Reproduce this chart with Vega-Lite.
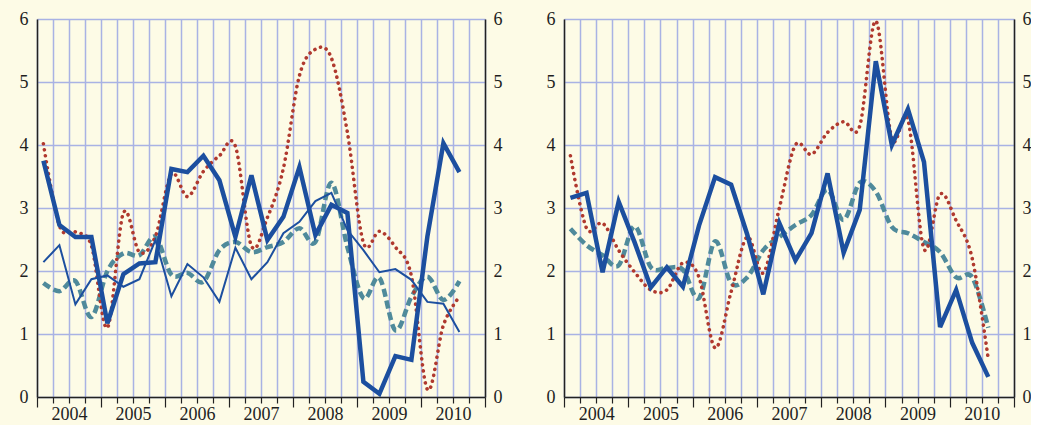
{
  "$schema": "https://vega.github.io/schema/vega-lite/v6.json",
  "background": "#FDFBE6",
  "padding": {"left": 19, "top": 10, "right": 0, "bottom": 0},
  "spacing": 44,
  "config": {
    "view": {"stroke": null},
    "axis": {"labelFont": "Liberation Serif", "labelFontSize": 18, "labelColor": "#1e1e1e", "domainColor": "#222222", "domainWidth": 1.5, "tickColor": "#222222", "tickWidth": 1.2, "title": null}
  },
  "datasets": {
    "left": [
      {"q": 0.4, "s": "a", "v": 3.75}, {"q": 1.4, "s": "a", "v": 2.73}, {"q": 2.4, "s": "a", "v": 2.54}, {"q": 3.4, "s": "a", "v": 2.54}, {"q": 4.4, "s": "a", "v": 1.17}, {"q": 5.4, "s": "a", "v": 1.95}, {"q": 6.4, "s": "a", "v": 2.12}, {"q": 7.4, "s": "a", "v": 2.14}, {"q": 8.4, "s": "a", "v": 3.62}, {"q": 9.4, "s": "a", "v": 3.57}, {"q": 10.4, "s": "a", "v": 3.83}, {"q": 11.4, "s": "a", "v": 3.44}, {"q": 12.4, "s": "a", "v": 2.54}, {"q": 13.4, "s": "a", "v": 3.52}, {"q": 14.4, "s": "a", "v": 2.49}, {"q": 15.4, "s": "a", "v": 2.86}, {"q": 16.4, "s": "a", "v": 3.65}, {"q": 17.4, "s": "a", "v": 2.57}, {"q": 18.4, "s": "a", "v": 3.05}, {"q": 19.4, "s": "a", "v": 2.92}, {"q": 20.4, "s": "a", "v": 0.24}, {"q": 21.4, "s": "a", "v": 0.05}, {"q": 22.4, "s": "a", "v": 0.65}, {"q": 23.4, "s": "a", "v": 0.59}, {"q": 24.4, "s": "a", "v": 2.55}, {"q": 25.4, "s": "a", "v": 4.03}, {"q": 26.4, "s": "a", "v": 3.57},
      {"q": 0.4, "s": "b", "v": 2.14}, {"q": 1.4, "s": "b", "v": 2.41}, {"q": 2.4, "s": "b", "v": 1.47}, {"q": 3.4, "s": "b", "v": 1.87}, {"q": 4.4, "s": "b", "v": 1.93}, {"q": 5.4, "s": "b", "v": 1.75}, {"q": 6.4, "s": "b", "v": 1.87}, {"q": 7.4, "s": "b", "v": 2.49}, {"q": 8.4, "s": "b", "v": 1.6}, {"q": 9.4, "s": "b", "v": 2.11}, {"q": 10.4, "s": "b", "v": 1.9}, {"q": 11.4, "s": "b", "v": 1.51}, {"q": 12.4, "s": "b", "v": 2.37}, {"q": 13.4, "s": "b", "v": 1.87}, {"q": 14.4, "s": "b", "v": 2.14}, {"q": 15.4, "s": "b", "v": 2.6}, {"q": 16.4, "s": "b", "v": 2.78}, {"q": 17.4, "s": "b", "v": 3.11}, {"q": 18.4, "s": "b", "v": 3.24}, {"q": 19.4, "s": "b", "v": 2.65}, {"q": 20.4, "s": "b", "v": 2.33}, {"q": 21.4, "s": "b", "v": 1.98}, {"q": 22.4, "s": "b", "v": 2.03}, {"q": 23.4, "s": "b", "v": 1.86}, {"q": 24.4, "s": "b", "v": 1.51}, {"q": 25.4, "s": "b", "v": 1.48}, {"q": 26.4, "s": "b", "v": 1.03},
      {"q": 0.4, "s": "c", "v": 4.02}, {"q": 1.4, "s": "c", "v": 2.72}, {"q": 2.4, "s": "c", "v": 2.62}, {"q": 3.4, "s": "c", "v": 2.4}, {"q": 4.4, "s": "c", "v": 1.1}, {"q": 5.4, "s": "c", "v": 2.92}, {"q": 6.4, "s": "c", "v": 2.3}, {"q": 7.4, "s": "c", "v": 2.55}, {"q": 8.4, "s": "c", "v": 3.54}, {"q": 9.4, "s": "c", "v": 3.18}, {"q": 10.4, "s": "c", "v": 3.58}, {"q": 11.4, "s": "c", "v": 3.83}, {"q": 12.4, "s": "c", "v": 3.98}, {"q": 13.4, "s": "c", "v": 2.4}, {"q": 14.4, "s": "c", "v": 2.85}, {"q": 15.4, "s": "c", "v": 3.63}, {"q": 16.4, "s": "c", "v": 5.1}, {"q": 17.4, "s": "c", "v": 5.52}, {"q": 18.4, "s": "c", "v": 5.38}, {"q": 19.4, "s": "c", "v": 4.2}, {"q": 20.4, "s": "c", "v": 2.45}, {"q": 21.4, "s": "c", "v": 2.63}, {"q": 22.4, "s": "c", "v": 2.38}, {"q": 23.4, "s": "c", "v": 1.92}, {"q": 24.4, "s": "c", "v": 0.12}, {"q": 25.4, "s": "c", "v": 1.14}, {"q": 26.4, "s": "c", "v": 1.59},
      {"q": 0.4, "s": "d", "v": 1.81}, {"q": 1.4, "s": "d", "v": 1.68}, {"q": 2.4, "s": "d", "v": 1.84}, {"q": 3.4, "s": "d", "v": 1.27}, {"q": 4.4, "s": "d", "v": 2.0}, {"q": 5.4, "s": "d", "v": 2.28}, {"q": 6.4, "s": "d", "v": 2.25}, {"q": 7.4, "s": "d", "v": 2.54}, {"q": 8.4, "s": "d", "v": 1.94}, {"q": 9.4, "s": "d", "v": 1.97}, {"q": 10.4, "s": "d", "v": 1.83}, {"q": 11.4, "s": "d", "v": 2.33}, {"q": 12.4, "s": "d", "v": 2.46}, {"q": 13.4, "s": "d", "v": 2.3}, {"q": 14.4, "s": "d", "v": 2.38}, {"q": 15.4, "s": "d", "v": 2.46}, {"q": 16.4, "s": "d", "v": 2.68}, {"q": 17.4, "s": "d", "v": 2.46}, {"q": 18.4, "s": "d", "v": 3.4}, {"q": 19.4, "s": "d", "v": 2.38}, {"q": 20.4, "s": "d", "v": 1.57}, {"q": 21.4, "s": "d", "v": 1.89}, {"q": 22.4, "s": "d", "v": 1.06}, {"q": 23.4, "s": "d", "v": 1.59}, {"q": 24.4, "s": "d", "v": 1.91}, {"q": 25.4, "s": "d", "v": 1.54}, {"q": 26.4, "s": "d", "v": 1.84}
    ],
    "right": [
      {"q": 0.4, "s": "a", "v": 3.16}, {"q": 1.4, "s": "a", "v": 3.24}, {"q": 2.4, "s": "a", "v": 1.98}, {"q": 3.4, "s": "a", "v": 3.1}, {"q": 4.4, "s": "a", "v": 2.45}, {"q": 5.4, "s": "a", "v": 1.74}, {"q": 6.4, "s": "a", "v": 2.06}, {"q": 7.4, "s": "a", "v": 1.75}, {"q": 8.4, "s": "a", "v": 2.72}, {"q": 9.4, "s": "a", "v": 3.49}, {"q": 10.4, "s": "a", "v": 3.37}, {"q": 11.4, "s": "a", "v": 2.58}, {"q": 12.4, "s": "a", "v": 1.63}, {"q": 13.4, "s": "a", "v": 2.76}, {"q": 14.4, "s": "a", "v": 2.17}, {"q": 15.4, "s": "a", "v": 2.6}, {"q": 16.4, "s": "a", "v": 3.55}, {"q": 17.4, "s": "a", "v": 2.29}, {"q": 18.4, "s": "a", "v": 2.97}, {"q": 19.4, "s": "a", "v": 5.33}, {"q": 20.4, "s": "a", "v": 4.0}, {"q": 21.4, "s": "a", "v": 4.57}, {"q": 22.4, "s": "a", "v": 3.73}, {"q": 23.4, "s": "a", "v": 1.11}, {"q": 24.4, "s": "a", "v": 1.7}, {"q": 25.4, "s": "a", "v": 0.86}, {"q": 26.4, "s": "a", "v": 0.32},
      {"q": 0.4, "s": "c", "v": 3.83}, {"q": 1.4, "s": "c", "v": 2.68}, {"q": 2.4, "s": "c", "v": 2.76}, {"q": 3.4, "s": "c", "v": 2.33}, {"q": 4.4, "s": "c", "v": 1.98}, {"q": 5.4, "s": "c", "v": 1.7}, {"q": 6.4, "s": "c", "v": 1.7}, {"q": 7.4, "s": "c", "v": 2.13}, {"q": 8.4, "s": "c", "v": 1.9}, {"q": 9.4, "s": "c", "v": 0.78}, {"q": 10.4, "s": "c", "v": 1.67}, {"q": 11.4, "s": "c", "v": 2.54}, {"q": 12.4, "s": "c", "v": 1.97}, {"q": 13.4, "s": "c", "v": 3.0}, {"q": 14.4, "s": "c", "v": 4.0}, {"q": 15.4, "s": "c", "v": 3.85}, {"q": 16.4, "s": "c", "v": 4.2}, {"q": 17.4, "s": "c", "v": 4.37}, {"q": 18.4, "s": "c", "v": 4.3}, {"q": 19.4, "s": "c", "v": 5.97}, {"q": 20.4, "s": "c", "v": 4.1}, {"q": 21.4, "s": "c", "v": 4.4}, {"q": 22.4, "s": "c", "v": 2.35}, {"q": 23.4, "s": "c", "v": 3.22}, {"q": 24.4, "s": "c", "v": 2.8}, {"q": 25.4, "s": "c", "v": 2.2}, {"q": 26.4, "s": "c", "v": 0.6},
      {"q": 0.4, "s": "d", "v": 2.67}, {"q": 1.4, "s": "d", "v": 2.41}, {"q": 2.4, "s": "d", "v": 2.25}, {"q": 3.4, "s": "d", "v": 2.09}, {"q": 4.4, "s": "d", "v": 2.71}, {"q": 5.4, "s": "d", "v": 2.06}, {"q": 6.4, "s": "d", "v": 2.05}, {"q": 7.4, "s": "d", "v": 2.02}, {"q": 8.4, "s": "d", "v": 1.57}, {"q": 9.4, "s": "d", "v": 2.47}, {"q": 10.4, "s": "d", "v": 1.81}, {"q": 11.4, "s": "d", "v": 1.9}, {"q": 12.4, "s": "d", "v": 2.33}, {"q": 13.4, "s": "d", "v": 2.54}, {"q": 14.4, "s": "d", "v": 2.73}, {"q": 15.4, "s": "d", "v": 2.89}, {"q": 16.4, "s": "d", "v": 3.29}, {"q": 17.4, "s": "d", "v": 2.81}, {"q": 18.4, "s": "d", "v": 3.4}, {"q": 19.4, "s": "d", "v": 3.26}, {"q": 20.4, "s": "d", "v": 2.7}, {"q": 21.4, "s": "d", "v": 2.6}, {"q": 22.4, "s": "d", "v": 2.46}, {"q": 23.4, "s": "d", "v": 2.3}, {"q": 24.4, "s": "d", "v": 1.9}, {"q": 25.4, "s": "d", "v": 1.9}, {"q": 26.4, "s": "d", "v": 1.1}
    ]
  },
  "hconcat": [
    {
      "width": 448,
      "height": 378,
      "data": {"name": "left"},
      "encoding": {
        "x": {"field": "q", "type": "quantitative", "scale": {"domain": [0, 28], "nice": false, "zero": false},
          "axis": {"values": [0,1,2,3,4,5,6,7,8,9,10,11,12,13,14,15,16,17,18,19,20,21,22,23,24,25,26,27,28], "grid": true, "gridColor": "#A9B2E4", "gridWidth": 1.5, "labelOverlap": false, "labelFlush": false, "labelPadding": 2, "labelExpr": "datum.value % 4 == 2 ? '' + (2004 + (datum.value - 2) / 4) : ''", "tickSize": {"condition": {"test": "datum.value % 4 == 0", "value": 10}, "value": 6}}}
      },
      "layer": [
        {"transform": [{"filter": "datum.s == 'd'"}], "mark": {"type": "line", "interpolate": "cardinal", "color": "#4F8A9B", "strokeWidth": 4.5, "strokeDash": [8, 4]},
          "encoding": {"y": {"field": "v", "type": "quantitative", "scale": {"domain": [0, 6], "nice": false}, "axis": {"orient": "left", "values": [0,1,2,3,4,5,6], "grid": true, "gridColor": "#A9B2E4", "gridWidth": 1.5, "ticks": false, "labelPadding": 9}}}},
        {"transform": [{"filter": "datum.s == 'c'"}], "mark": {"type": "line", "interpolate": "cardinal", "color": "#B0392E", "strokeWidth": 3.6, "strokeDash": [0.1, 6], "strokeCap": "round"},
          "encoding": {"y": {"field": "v", "type": "quantitative", "scale": {"domain": [0, 6], "nice": false}, "axis": null}}},
        {"transform": [{"filter": "datum.s == 'b'"}], "mark": {"type": "line", "color": "#1C4F9F", "strokeWidth": 2},
          "encoding": {"y": {"field": "v", "type": "quantitative", "scale": {"domain": [0, 6], "nice": false}, "axis": null}}},
        {"transform": [{"filter": "datum.s == 'a'"}], "mark": {"type": "line", "color": "#1C4F9F", "strokeWidth": 4.5},
          "encoding": {"y": {"field": "v", "type": "quantitative", "scale": {"domain": [0, 6], "nice": false}, "axis": {"orient": "right", "values": [0,1,2,3,4,5,6], "grid": false, "ticks": false, "labelPadding": 8}}}}
      ],
      "resolve": {"scale": {"y": "independent"}}
    },
    {
      "width": 450,
      "height": 378,
      "data": {"name": "right"},
      "encoding": {
        "x": {"field": "q", "type": "quantitative", "scale": {"domain": [0, 28], "nice": false, "zero": false},
          "axis": {"values": [0,1,2,3,4,5,6,7,8,9,10,11,12,13,14,15,16,17,18,19,20,21,22,23,24,25,26,27,28], "grid": true, "gridColor": "#A9B2E4", "gridWidth": 1.5, "labelOverlap": false, "labelFlush": false, "labelPadding": 2, "labelExpr": "datum.value % 4 == 2 ? '' + (2004 + (datum.value - 2) / 4) : ''", "tickSize": {"condition": {"test": "datum.value % 4 == 0", "value": 10}, "value": 6}}}
      },
      "layer": [
        {"transform": [{"filter": "datum.s == 'd'"}], "mark": {"type": "line", "interpolate": "cardinal", "color": "#4F8A9B", "strokeWidth": 4.5, "strokeDash": [8, 4]},
          "encoding": {"y": {"field": "v", "type": "quantitative", "scale": {"domain": [0, 6], "nice": false}, "axis": {"orient": "left", "values": [0,1,2,3,4,5,6], "grid": true, "gridColor": "#A9B2E4", "gridWidth": 1.5, "ticks": false, "labelPadding": 9}}}},
        {"transform": [{"filter": "datum.s == 'c'"}], "mark": {"type": "line", "interpolate": "cardinal", "color": "#B0392E", "strokeWidth": 3.6, "strokeDash": [0.1, 6], "strokeCap": "round"},
          "encoding": {"y": {"field": "v", "type": "quantitative", "scale": {"domain": [0, 6], "nice": false}, "axis": null}}},
        {"transform": [{"filter": "datum.s == 'a'"}], "mark": {"type": "line", "color": "#1C4F9F", "strokeWidth": 4.5},
          "encoding": {"y": {"field": "v", "type": "quantitative", "scale": {"domain": [0, 6], "nice": false}, "axis": {"orient": "right", "values": [0,1,2,3,4,5,6], "grid": false, "ticks": false, "labelPadding": 8}}}}
      ],
      "resolve": {"scale": {"y": "independent"}}
    }
  ]
}
